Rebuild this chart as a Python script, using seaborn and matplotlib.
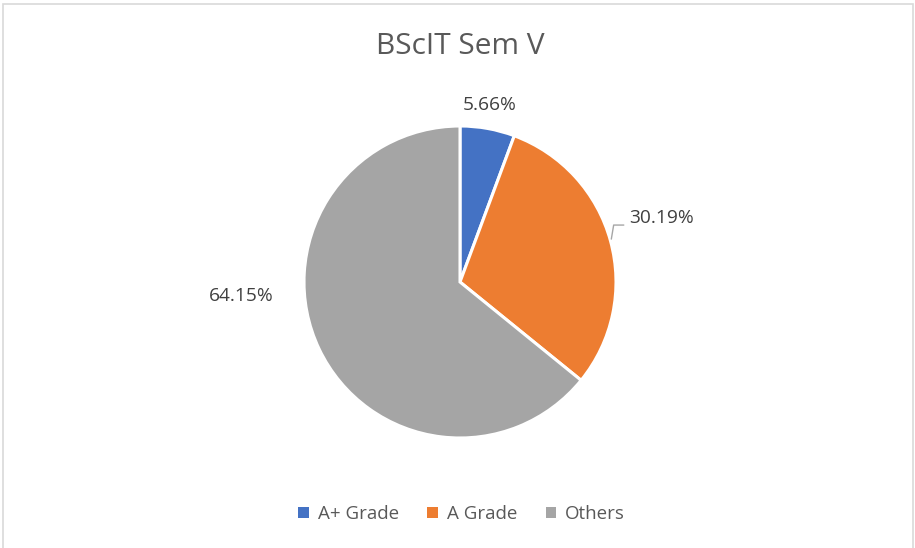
import matplotlib
matplotlib.use("Agg")
import matplotlib.pyplot as plt
from matplotlib.patches import Rectangle
import seaborn as sns

# Grade distribution for BScIT Semester V
categories = ["A+ Grade", "A Grade", "Others"]
shares = [5.66, 30.19, 64.15]
colors = ["#4472C4", "#ED7D31", "#A5A5A5"]
title = "BScIT Sem V"

sns.set_theme(style="white")
plt.rcParams["font.family"] = ["Open Sans", "DejaVu Sans"]

W, H = 915, 548
fig = plt.figure(figsize=(W / 100, H / 100), dpi=100)
fig.patch.set_facecolor("white")

# Square axes that hold the pie (pixel geometry -> figure fractions)
cx, cy, r = 460, 282, 156
ax = fig.add_axes([(cx - r) / W, (H - cy - r) / H, 2 * r / W, 2 * r / H])
wedges, _ = ax.pie(
    shares,
    colors=colors,
    startangle=90,
    counterclock=False,
    radius=1.0,
    wedgeprops=dict(edgecolor="white", linewidth=2.2),
)
ax.set_xlim(-1, 1)
ax.set_ylim(-1, 1)
ax.set_aspect("auto")
ax.axis("off")

label_color = "#404040"
fs = 13.8
# Data labels
ax.text(0.19, 1.137, f"{shares[0]:.2f}%", ha="center", va="center",
        fontsize=fs, color=label_color)
ax.text(1.29, 0.41, f"{shares[1]:.2f}%", ha="center", va="center",
        fontsize=fs, color=label_color)
ax.text(-1.40, -0.09, f"{shares[2]:.2f}%", ha="center", va="center",
        fontsize=fs, color=label_color)
# Leader line for the A Grade label
ax.plot([0.97, 0.985, 1.05], [0.275, 0.365, 0.365], color="#A6A6A6",
        lw=1.0, clip_on=False)

fig.text(cx / W, 1 - 47 / H, title, ha="center", va="center",
         fontsize=21.5, color="#595959")

handles = [Rectangle((0, 0), 1, 1, facecolor=c, edgecolor="none") for c in colors]
fig.legend(handles, categories, loc="center", bbox_to_anchor=(cx / W + 0.002, 1 - 514 / H),
           ncol=3, frameon=False, fontsize=13.5, handlelength=0.55, handleheight=0.55,
           handletextpad=0.5, columnspacing=1.5, labelcolor="#595959")

# Chart area border
fig.patches.append(Rectangle((3 / W, -0.01), 910 / W, 1 - 4 / H + 0.01,
                             transform=fig.transFigure, fill=False,
                             edgecolor="#D9D9D9", linewidth=1.2))

fig.savefig("out.png", dpi=100)
